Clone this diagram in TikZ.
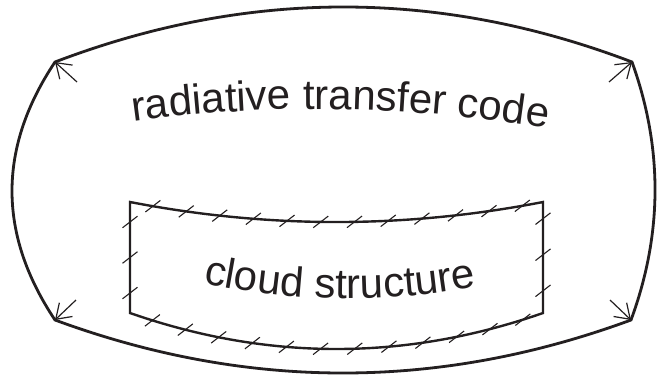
\documentclass[tikz,border=0pt]{standalone}
\usepackage{fontspec}
\setmainfont{Liberation Sans}
\usetikzlibrary{arrows.meta,decorations.text,decorations.markings}
\definecolor{ink}{RGB}{35,31,32}
\tikzset{
  outerline/.style={draw=ink, line width=2.8pt},
  innerline/.style={draw=ink, line width=2.4pt, line join=miter},
  tickline/.style={draw=ink, line width=1.1pt},
  cornerarrow/.style={draw=ink, line width=1.2pt, -{Straight Barb[length=14pt,width=19pt]}},
  hatch/.style={decorate, decoration={markings, mark=between positions #1 with {\pgftransformresetnontranslations \draw[tickline] (-7.5,5.8) -- (7.5,-5.8);}}},
  arctext/.style={decorate, decoration={text along path, text align=center, text={|\color{ink}\fontsize{42}{50}\selectfont|#1}}}
}
\begin{document}
\begin{tikzpicture}[x=1pt,y=-1pt]
\useasboundingbox (0,0) rectangle (658,377);
% outer shape corners
\coordinate (otl) at (55,62);
\coordinate (otr) at (632,62);
\coordinate (obr) at (631,320);
\coordinate (obl) at (55,320);
\draw[outerline] (otl) .. controls (247.33,-11.33) and (439.67,-11.33) .. (otr)
  .. controls (663,148) and (662.7,234) .. (obr)
  .. controls (439,390.67) and (247,390.67) .. (obl)
  .. controls (-2.33,234) and (-2.33,148) .. cycle;
% corner arrows
\coordinate (atl) at (77,82);
\coordinate (atr) at (609,82);
\coordinate (abr) at (610,300);
\coordinate (abl) at (76,300);
\draw[cornerarrow] (atl) -- (otl);
\draw[cornerarrow] (atr) -- (otr);
\draw[cornerarrow] (abr) -- (obr);
\draw[cornerarrow] (abl) -- (obl);
% inner box
\coordinate (itl) at (130,202);
\coordinate (itr) at (543,202);
\coordinate (ibr) at (543,313);
\coordinate (ibl) at (130,313);
\draw[innerline] (itl) .. controls (267.7,228.7) and (405.3,228.7) .. (itr)
  -- (ibr) .. controls (405.3,361) and (267.7,361) .. (ibl) -- cycle;
% hatching
\path[hatch={0.056 and 0.96 step 0.0812}] (itl) .. controls (267.7,228.7) and (405.3,228.7) .. (itr);
\path[hatch={0.056 and 0.96 step 0.0812}] (ibl) .. controls (267.7,361) and (405.3,361) .. (ibr);
\path[hatch={0.18 and 0.83 step 0.32}] (itl) -- (ibl);
\path[hatch={0.15 and 0.80 step 0.325}] (itr) -- (ibr);
% texts
\path[arctext={radiative transfer code}] (110,125) .. controls (260,101.67) and (413.33,104) .. (570,132);
\path[arctext={cloud structure}] (190,280) .. controls (290,303.33) and (390,304.67) .. (490,284);
\end{tikzpicture}
\end{document}
